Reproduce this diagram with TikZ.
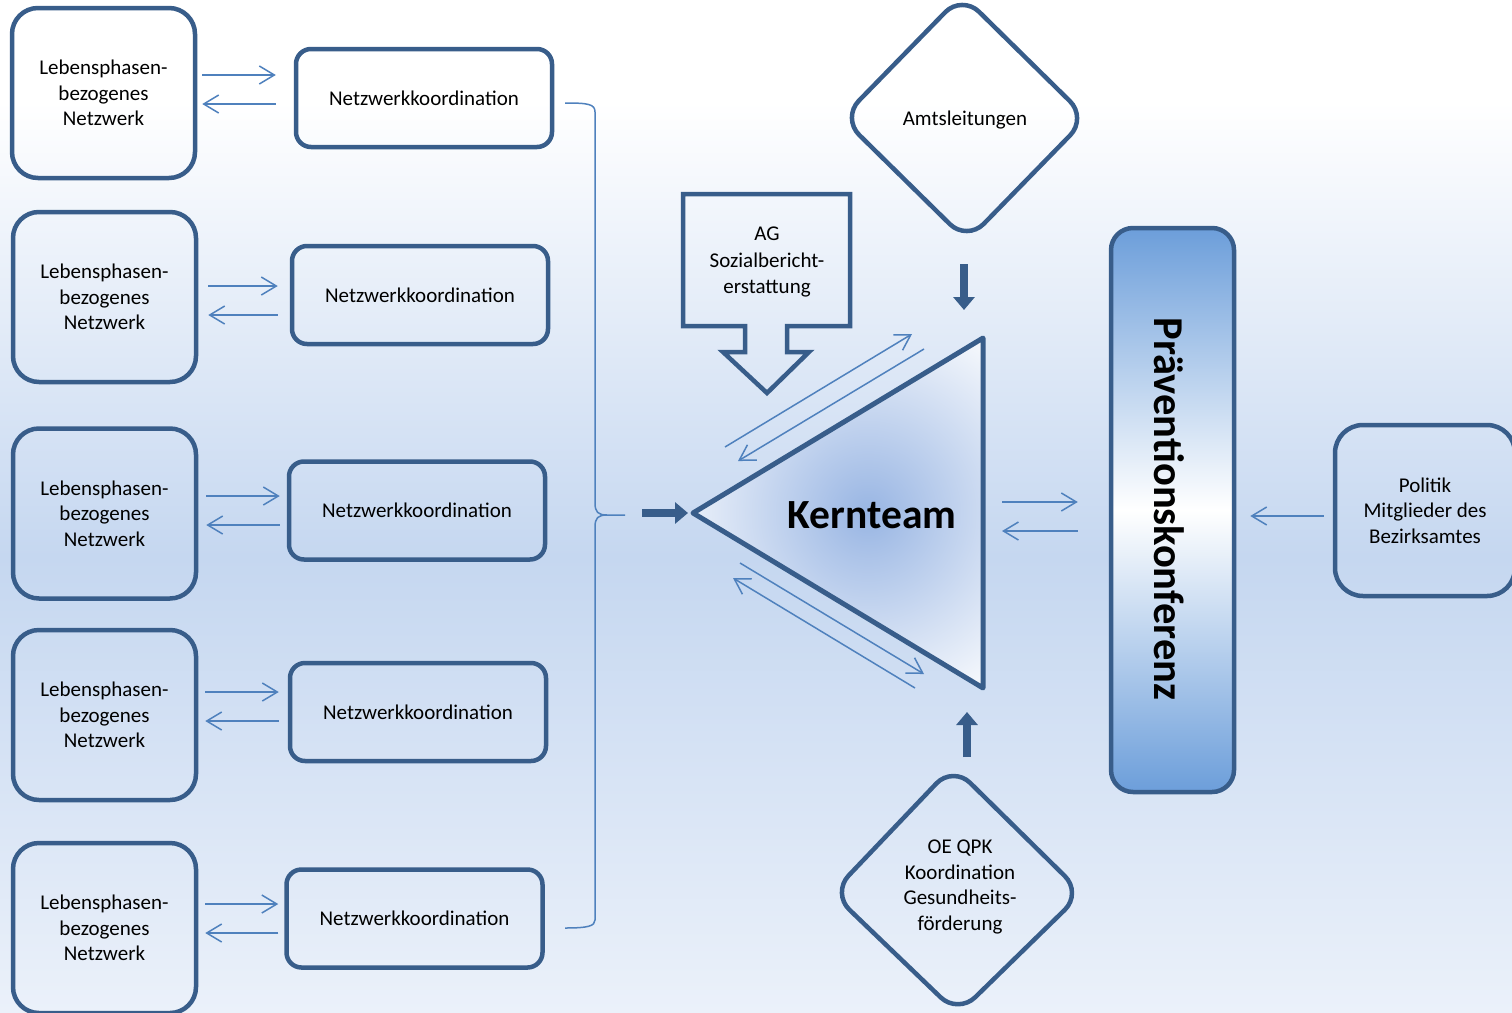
\documentclass[tikz,border=0pt]{standalone}
\usepackage{fontspec}
\setmainfont{Carlito}
\usetikzlibrary{arrows.meta,calc}
\definecolor{dkb}{RGB}{56,93,138}
\definecolor{mdb}{RGB}{79,129,189}
\definecolor{bgmid}{RGB}{197,215,240}
\definecolor{bgbot}{RGB}{235,241,250}
\definecolor{pkb}{RGB}{108,158,218}
\definecolor{ktb}{RGB}{152,181,227}
\pgfdeclareverticalshading{bgshade}{100bp}{color(0bp)=(bgbot); color(25bp)=(bgbot); color(47.5bp)=(bgmid); color(70bp)=(white); color(100bp)=(white)}
\begin{document}
\begin{tikzpicture}[x=1pt,y=-1pt,
  txt/.style={font=\fontsize{21}{25.6}\selectfont, align=center},
  lbox/.style={txt, draw=dkb, line width=4.5pt, rounded corners=26pt, minimum width=183pt, minimum height=170pt, inner sep=0pt},
  nbox/.style={txt, draw=dkb, line width=4.5pt, rounded corners=15pt, minimum width=256pt, minimum height=98pt, inner sep=0pt},
  thinarr/.style={mdb, line width=1.5pt, -{Straight Barb[length=15pt,width=18pt]}},
  thickarr/.style={dkb, line width=8pt, -{Triangle[length=13pt,width=21pt]}},
  shapeline/.style={draw=dkb, line width=4.5pt},
]
\useasboundingbox (0,0) rectangle (1512,1012);
\shade[shading=bgshade] (0,0) rectangle (1512,1012);

% left column
\node[lbox] (L1) at (103.5,93) {Lebensphasen-\\bezogenes\\Netzwerk};
\node[lbox] (L2) at (104.5,297) {Lebensphasen-\\bezogenes\\Netzwerk};
\node[lbox] (L3) at (104.5,513.5) {Lebensphasen-\\bezogenes\\Netzwerk};
\node[lbox] (L4) at (104.5,715) {Lebensphasen-\\bezogenes\\Netzwerk};
\node[lbox] (L5) at (104.5,928) {Lebensphasen-\\bezogenes\\Netzwerk};

\node[nbox] (N1) at (424,98) {Netzwerkkoordination};
\node[nbox] (N2) at (420,295) {Netzwerkkoordination};
\node[nbox] (N3) at (417,510.5) {Netzwerkkoordination};
\node[nbox] (N4) at (418,712) {Netzwerkkoordination};
\node[nbox] (N5) at (414.5,918.5) {Netzwerkkoordination};

\draw[thinarr] ([xshift=5pt]L1.east |- 0,75) -- ([xshift=-18pt]N1.west |- 0,75);
\draw[thinarr] ([xshift=-18pt]N1.west |- 0,104) -- ([xshift=5pt]L1.east |- 0,104);
\draw[thinarr] ([xshift=10pt]L2.east |- 0,286) -- ([xshift=-12pt]N2.west |- 0,286);
\draw[thinarr] ([xshift=-12pt]N2.west |- 0,315) -- ([xshift=10pt]L2.east |- 0,315);
\draw[thinarr] ([xshift=8pt]L3.east |- 0,496) -- ([xshift=-7pt]N3.west |- 0,496);
\draw[thinarr] ([xshift=-7pt]N3.west |- 0,525) -- ([xshift=8pt]L3.east |- 0,525);
\draw[thinarr] ([xshift=7pt]L4.east |- 0,692) -- ([xshift=-9pt]N4.west |- 0,692);
\draw[thinarr] ([xshift=-9pt]N4.west |- 0,721) -- ([xshift=7pt]L4.east |- 0,721);
\draw[thinarr] ([xshift=7pt]L5.east |- 0,904) -- ([xshift=-6pt]N5.west |- 0,904);
\draw[thinarr] ([xshift=-6pt]N5.west |- 0,933) -- ([xshift=7pt]L5.east |- 0,933);

% brace
\coordinate (bt) at (565,103);
\coordinate (bb) at (565,928);
\coordinate (bc) at (625,515);
\draw[mdb, line width=1.5pt] (bt) .. controls (588,103) and (595,104) .. (595,112) -- (595,503)
  .. controls (595,512) and (598,515) .. (607,515) -- (bc);
\draw[mdb, line width=1.5pt] (607,515) .. controls (598,515) and (595,518) .. (595,527) -- (595,920)
  .. controls (595,926) and (588,928) .. (bb);

% Kernteam triangle
\coordinate (kL) at (693,513);
\coordinate (kT) at (983,338);
\coordinate (kB) at (983,688);
\begin{scope}
\clip (kL) -- (kT) -- (kB) -- cycle;
\fill[white] (kL) -- (kT) -- (kB) -- cycle;
\shade[inner color=ktb, outer color=white] (868,513) circle (225);
\end{scope}
\draw[dkb, line width=5pt, line join=round] (kL) -- (kT) -- (kB) -- cycle;
\node[font=\fontsize{41.5}{48}\selectfont\bfseries] (kern) at (872,515) {Kernteam};

\coordinate (kin) at (642,513);
\draw[thickarr] (kin) -- ([xshift=-5pt]kL);

% thin arrows along triangle
\draw[thinarr] (725,447) -- (912,334);
\draw[thinarr] (924,349) -- (738,461);
\draw[thinarr] (740,563) -- (924,674);
\draw[thinarr] (915,688) -- (733,578);

% AG callout
\draw[shapeline, line join=miter] (683,194) -- (850,194) -- (850,326) -- (787,326) -- (787,352) -- (809,352)
  -- (767,393) -- (723,352) -- (745,352) -- (745,326) -- (683,326) -- cycle;
\node[txt, font=\fontsize{21}{26.5}\selectfont] (ag) at (767,262) {AG\\Sozialbericht-\\erstattung};

% diamonds
\draw[shapeline, rounded corners=24pt] (842,118) -- (962,-5) -- (1087,118) -- (967,241) -- cycle;
\node[txt] (amts) at (965,120) {Amtsleitungen};
\draw[shapeline, rounded corners=24pt] (832,893) -- (953,766) -- (1082,893) -- (958,1014) -- cycle;
\node[txt] (oe) at (960,887) {OE QPK\\Koordination\\Gesundheits-\\förderung};

\coordinate (da) at (964,264);
\coordinate (db) at (964,310);
\draw[thickarr] (da) -- (db);
\coordinate (ua) at (967,757);
\coordinate (ub) at (967,712);
\draw[thickarr] (ua) -- (ub);

% Praeventionskonferenz
\node[draw=dkb, line width=4.5pt, rounded corners=22pt, minimum width=123pt, minimum height=564pt,
  top color=pkb, bottom color=pkb, middle color=white] (pk) at (1172.5,510) {};
\node[rotate=-90, font=\fontsize{42.5}{48}\selectfont\bfseries] (pkt) at (1169,509) {Präventionskonferenz};

\draw[thinarr] (1002,502) -- ([xshift=-31pt]pk.west |- 0,502);
\draw[thinarr] ([xshift=-31pt]pk.west |- 0,531) -- (1002,531);

% Politik
\node[txt, draw=dkb, line width=4.5pt, rounded corners=28pt, minimum width=180pt, minimum height=171pt, inner sep=0pt] (pol) at (1425,510.5) {Politik\\Mitglieder des\\Bezirksamtes};
\draw[thinarr] ([xshift=-9pt]pol.west |- 0,516) -- ([xshift=14pt]pk.east |- 0,516);
\end{tikzpicture}
\end{document}
